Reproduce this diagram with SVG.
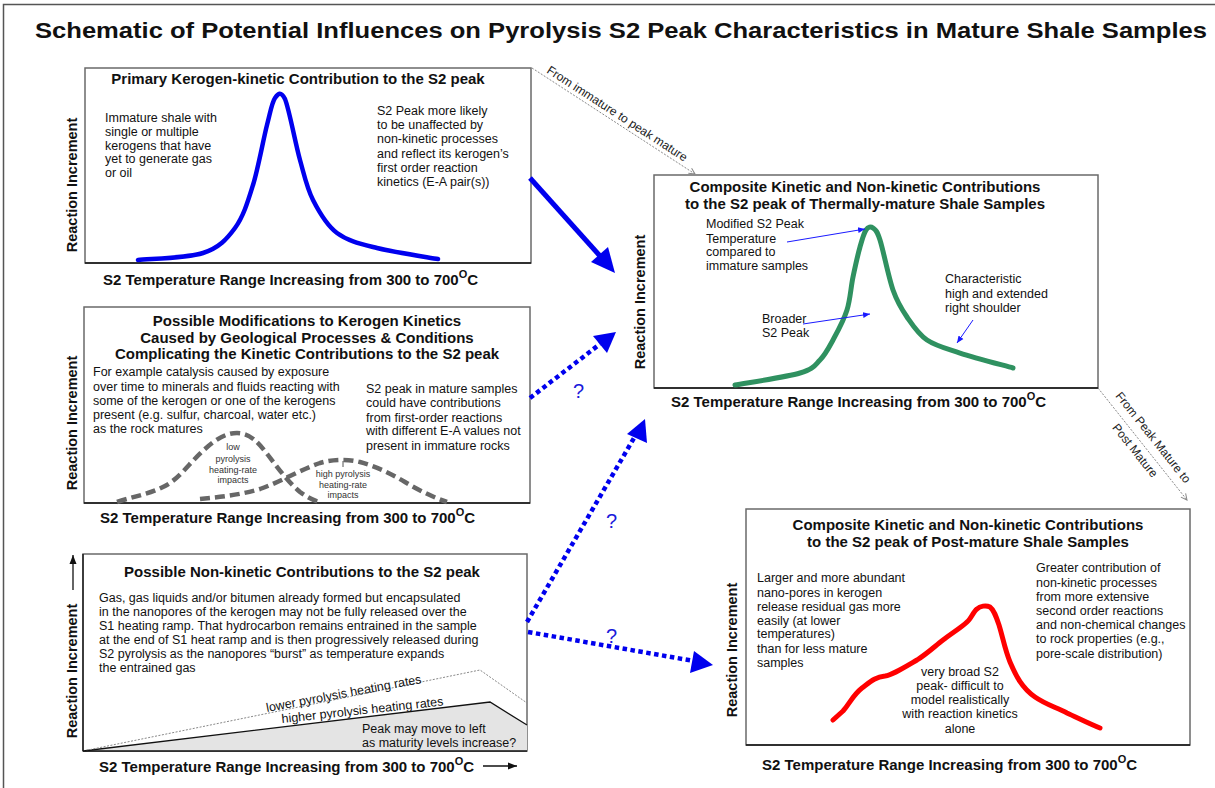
<svg xmlns="http://www.w3.org/2000/svg" width="1215" height="788" viewBox="0 0 1215 788">
<defs>
<style>
text{font-family:"Liberation Sans",Arial,sans-serif;fill:#111}
.t{font-size:22px;font-weight:bold}
.pt{font-size:15px;font-weight:bold;text-anchor:middle}
.b{font-size:12.5px}
.ax{font-size:15px;font-weight:bold}
.axv{font-size:14.5px;font-weight:bold;text-anchor:middle}
.sm{font-size:9px;text-anchor:middle;fill:#333}
.cn{font-size:12px;fill:#222}
.q{font-size:20px;fill:#1a1adb}
.box{fill:#fff;stroke:#6a6a6a;stroke-width:1.5}
.axis{stroke:#111;stroke-width:1.3;fill:none}
.curve{fill:none;stroke-linejoin:round;stroke-linecap:round}
.gd{fill:none;stroke:#676767;stroke-width:4.5;stroke-dasharray:10 5}
.bd{fill:none;stroke:#0000ee;stroke-width:4.5;stroke-dasharray:4.5 3.5}
.thin{stroke:#1a1aff;stroke-width:1;fill:none}
.gc{stroke:#888;stroke-width:1;stroke-dasharray:2 1.5;fill:none}
</style>
<marker id="sa" markerWidth="8" markerHeight="8" refX="7" refY="4" orient="auto" markerUnits="userSpaceOnUse"><path d="M0,1 L7,4 L0,7 z" fill="#1a1aff"/></marker>
<marker id="ga" markerWidth="8" markerHeight="8" refX="7" refY="4" orient="auto" markerUnits="userSpaceOnUse"><path d="M1,1 L7,4 L1,7" fill="none" stroke="#888" stroke-width="1"/></marker>
<marker id="ka" markerWidth="10" markerHeight="10" refX="9" refY="5" orient="auto" markerUnits="userSpaceOnUse"><path d="M0,1.5 L9,5 L0,8.5 z" fill="#111"/></marker>
</defs>
<rect width="1215" height="788" fill="#fff"/>
<path d="M3.5,788 V4.5 H1215" fill="none" stroke="#555" stroke-width="1.5"/>

<g id="title">
<text class="t" x="35" y="38" textLength="1172" lengthAdjust="spacingAndGlyphs">Schematic of Potential Influences on Pyrolysis S2 Peak Characteristics in Mature Shale Samples</text>
</g>

<g id="panel-primary">
<rect class="box" x="85" y="68" width="446" height="195"/>
<line class="axis" x1="85" y1="263" x2="531" y2="263"/>
<text class="pt" x="298" y="84">Primary Kerogen-kinetic Contribution to the S2 peak</text>
<text class="b" x="105" y="122">Immature shale with</text>
<text class="b" x="105" y="136">single or multiple</text>
<text class="b" x="105" y="150">kerogens that have</text>
<text class="b" x="105" y="163">yet to generate gas</text>
<text class="b" x="105" y="177">or oil</text>
<text class="b" x="377" y="115">S2 Peak more likely</text>
<text class="b" x="377" y="129">to be unaffected by</text>
<text class="b" x="377" y="143">non-kinetic processes</text>
<text class="b" x="377" y="158">and reflect its kerogen’s</text>
<text class="b" x="377" y="172">first order reaction</text>
<text class="b" x="377" y="186">kinetics (E-A pair(s))</text>
<path class="curve" stroke="#0000ee" stroke-width="4.5" d="M138,260 C148.8,258.8 186.8,258.3 203,253 C219.2,247.7 226.7,239.3 235,228 C243.3,216.7 247.7,202.2 253,185 C258.3,167.8 263.2,139.8 267,125 C270.7,110.5 272,102.3 275,98 C278,93.7 280.8,90.5 285,99 C289.2,109.3 295.3,143.2 300,160 C304.7,176.8 306.8,187.8 313,200 C319.2,212.2 326.3,225 337,233 C347.7,241 360.2,243.7 377,248 C393.8,252.3 427.8,257.2 438,259"/>
<text class="axv" transform="translate(77,185) rotate(-90)">Reaction Increment</text>
<text class="ax" x="103" y="285">S2 Temperature Range Increasing from 300 to 700<tspan font-size="11" dy="-7">O</tspan><tspan dy="7">C</tspan></text>
</g>

<g id="panel-modifications">
<rect class="box" x="84" y="307" width="446" height="196"/>
<line class="axis" x1="84" y1="503" x2="530" y2="503"/>
<text class="pt" x="307" y="326">Possible Modifications to Kerogen Kinetics</text>
<text class="pt" x="307" y="343">Caused by Geological Processes &amp; Conditions</text>
<text class="pt" x="307" y="359">Complicating the Kinetic Contributions to the S2 peak</text>
<text class="b" x="93" y="376">For example catalysis caused by exposure</text>
<text class="b" x="93" y="391">over time to minerals and fluids reacting with</text>
<text class="b" x="93" y="405">some of the kerogen or one of the kerogens</text>
<text class="b" x="93" y="419">present (e.g. sulfur, charcoal, water etc.)</text>
<text class="b" x="93" y="433">as the rock matures</text>
<text class="b" x="366" y="393">S2 peak in mature samples</text>
<text class="b" x="366" y="407">could have contributions</text>
<text class="b" x="366" y="422">from first-order reactions</text>
<text class="b" x="366" y="435">with different E-A values not</text>
<text class="b" x="366" y="450">present in immature rocks</text>
<path class="gd" d="M117,502 C135,496 150,494 165,486 C180,478 190,462 205,449 C215,440 225,433 237,433 C250,433 258,442 268,455 C278,468 288,482 300,492 C308,498 315,501 320,502"/>
<path class="gd" d="M200,499 C220,497 240,495 260,489 C280,482 300,470 320,463 C333,459 348,459 360,462 C375,466 390,473 405,482 C420,491 435,498 447,502"/>
<line x1="343" y1="461" x2="343" y2="467" stroke="#555" stroke-width="1"/>
<text class="sm" x="233" y="450">low</text>
<text class="sm" x="233" y="462">pyrolysis</text>
<text class="sm" x="233" y="473">heating-rate</text>
<text class="sm" x="233" y="483">impacts</text>
<text class="sm" x="343" y="477">high pyrolysis</text>
<text class="sm" x="343" y="488">heating-rate</text>
<text class="sm" x="343" y="498">impacts</text>
<text class="axv" transform="translate(77,423) rotate(-90)">Reaction Increment</text>
<text class="ax" x="100" y="523">S2 Temperature Range Increasing from 300 to 700<tspan font-size="11" dy="-7">O</tspan><tspan dy="7">C</tspan></text>
</g>

<g id="panel-nonkinetic">
<rect class="box" x="83" y="554" width="444" height="197"/>
<polygon points="83,751 490,702 527,725 527,751" fill="#e4e4e4"/>
<polyline points="83,751 490,702 527,725" fill="none" stroke="#111" stroke-width="1.3"/>
<polyline class="gc" points="83,751 480,670 527,703" stroke-dasharray="1.5 4" stroke-width="1.3"/>
<line class="axis" x1="83" y1="751" x2="527" y2="751"/>
<line class="axis" x1="83" y1="554" x2="83" y2="751"/>
<text class="pt" x="302" y="577">Possible Non-kinetic Contributions to the S2 peak</text>
<text class="b" x="99" y="602">Gas, gas liquids and/or bitumen already formed but encapsulated</text>
<text class="b" x="99" y="616">in the nanopores of the kerogen may not be fully released over the</text>
<text class="b" x="99" y="630">S1 heating ramp. That hydrocarbon remains entrained in the sample</text>
<text class="b" x="99" y="644">at the end of S1 heat ramp and is then progressively released during</text>
<text class="b" x="99" y="658">S2 pyrolysis as the nanopores “burst” as temperature expands</text>
<text class="b" x="99" y="672">the entrained gas</text>
<text class="b" transform="translate(267,712) rotate(-10.6)">lower pyrolysis heating rates</text>
<text class="b" transform="translate(282,723) rotate(-6.2)">higher pyrolysis heating rates</text>
<text class="b" x="362" y="733">Peak may move to left</text>
<text class="b" x="362" y="747">as maturity levels increase?</text>
<text class="axv" transform="translate(77,671) rotate(-90)">Reaction Increment</text>
<line class="axis" x1="73" y1="590" x2="73" y2="555" marker-end="url(#ka)"/>
<text class="ax" x="99" y="772">S2 Temperature Range Increasing from 300 to 700<tspan font-size="11" dy="-7">O</tspan><tspan dy="7">C</tspan></text>
<line class="axis" x1="483" y1="766" x2="517" y2="766" marker-end="url(#ka)"/>
</g>

<g id="panel-mature">
<rect class="box" x="654" y="175" width="444" height="213"/>
<line class="axis" x1="654" y1="388" x2="1098" y2="388"/>
<text class="pt" x="865" y="192">Composite Kinetic and Non-kinetic Contributions</text>
<text class="pt" x="865" y="209">to the S2 peak of Thermally-mature Shale Samples</text>
<text class="b" x="706" y="228">Modified S2 Peak</text>
<text class="b" x="706" y="243">Temperature</text>
<text class="b" x="706" y="256">compared to</text>
<text class="b" x="706" y="270">immature samples</text>
<text class="b" x="762" y="323">Broader</text>
<text class="b" x="762" y="337">S2 Peak</text>
<text class="b" x="945" y="283">Characteristic</text>
<text class="b" x="945" y="298">high and extended</text>
<text class="b" x="945" y="312">right shoulder</text>
<path class="curve" stroke="#2f9160" stroke-width="5" d="M735,385 C745.8,383 785.8,377.2 800,373 C814.2,368.8 814.5,365.5 820,360 C825.5,354.5 828.5,348.3 833,340 C837.5,331.7 843.7,320.5 847,310 C850.3,299.5 850.8,287.5 853,277 C855.2,266.5 857.8,254.8 860,247 C862.2,239.2 863.8,233.2 866,230 C868.2,226.8 870.7,226.3 873,228 C875.3,229.7 876.7,229.7 880,240 C883.3,250.3 888.5,277.2 893,290 C897.5,302.8 901.3,308.7 907,317 C912.7,325.3 918.2,334 927,340 C935.8,346 945.7,348.3 960,353 C974.3,357.7 1004.2,365.5 1013,368"/>
<line class="thin" x1="787" y1="242" x2="865" y2="229" marker-end="url(#sa)"/>
<line class="thin" x1="803" y1="324" x2="870" y2="314" marker-end="url(#sa)"/>
<line class="thin" x1="973" y1="320" x2="957" y2="343" marker-end="url(#sa)"/>
<text class="axv" transform="translate(645,302) rotate(-90)">Reaction Increment</text>
<text class="ax" x="671" y="407">S2 Temperature Range Increasing from 300 to 700<tspan font-size="11" dy="-7">O</tspan><tspan dy="7">C</tspan></text>
</g>

<g id="panel-postmature">
<rect class="box" x="746" y="509" width="444" height="236"/>
<line class="axis" x1="746" y1="745" x2="1190" y2="745"/>
<text class="pt" x="968" y="530">Composite Kinetic and Non-kinetic Contributions</text>
<text class="pt" x="968" y="547">to the S2 peak of Post-mature Shale Samples</text>
<text class="b" x="757" y="582">Larger and more abundant</text>
<text class="b" x="757" y="597">nano-pores in kerogen</text>
<text class="b" x="757" y="611">release residual gas more</text>
<text class="b" x="757" y="625">easily (at lower</text>
<text class="b" x="757" y="638">temperatures)</text>
<text class="b" x="757" y="653">than for less mature</text>
<text class="b" x="757" y="667">samples</text>
<text class="b" x="1036" y="572">Greater contribution of</text>
<text class="b" x="1036" y="587">non-kinetic processes</text>
<text class="b" x="1036" y="601">from more extensive</text>
<text class="b" x="1036" y="615">second order reactions</text>
<text class="b" x="1036" y="629">and non-chemical changes</text>
<text class="b" x="1036" y="643">to rock properties (e.g.,</text>
<text class="b" x="1036" y="658">pore-scale distribution)</text>
<path class="curve" stroke="#ff0000" stroke-width="5" d="M833,720 L843,711 C850,703 853,695 862,688 C870,682 875,677 885,676 C892,675 900,670 917,660 C928,653 935,646 943,640 C952,633 962,627 967,622 C971,619 973,612 977,609 C980,606 986,605 990,607 C994,610 996,616 999,625 C1003,638 1005,650 1010,662 C1016,676 1022,688 1035,697 C1045,704 1055,707 1067,713 C1080,719 1090,724 1100,728"/>
<text class="b" x="960" y="676" text-anchor="middle">very broad S2</text>
<text class="b" x="960" y="690" text-anchor="middle">peak- difficult to</text>
<text class="b" x="960" y="704" text-anchor="middle">model realistically</text>
<text class="b" x="960" y="718" text-anchor="middle">with reaction kinetics</text>
<text class="b" x="960" y="733" text-anchor="middle">alone</text>
<text class="axv" transform="translate(737,650) rotate(-90)">Reaction Increment</text>
<text class="ax" x="762" y="770">S2 Temperature Range Increasing from 300 to 700<tspan font-size="11" dy="-7">O</tspan><tspan dy="7">C</tspan></text>
</g>

<g id="connectors">
<line class="gc" x1="532" y1="68" x2="695" y2="174" marker-end="url(#ga)"/>
<text class="cn" text-anchor="middle" transform="translate(615,117) rotate(33)">From immature to peak mature</text>
<line class="gc" x1="1098" y1="388" x2="1187" y2="500" marker-end="url(#ga)"/>
<text class="cn" text-anchor="middle" transform="translate(1150,440) rotate(51.5)">From Peak Mature to</text>
<text class="cn" text-anchor="middle" transform="translate(1132,453) rotate(51.5)">Post Mature</text>
<line x1="530" y1="178" x2="600" y2="256" stroke="#0000ee" stroke-width="5"/>
<polygon points="615,273 591,262 608,247" fill="#0000ee"/>
<line class="bd" x1="530" y1="398" x2="600" y2="344"/>
<polygon points="616,332 593,336 607,353" fill="#0000ee"/>
<text class="q" x="573" y="398">?</text>
<line class="bd" x1="527" y1="622" x2="634" y2="438"/>
<polygon points="645,419 627,434 647,443" fill="#0000ee"/>
<text class="q" x="606" y="528">?</text>
<line class="bd" x1="528" y1="632" x2="694" y2="661"/>
<polygon points="713,665 694,651 690,673" fill="#0000ee"/>
<text class="q" x="606" y="643">?</text>
</g>
</svg>
